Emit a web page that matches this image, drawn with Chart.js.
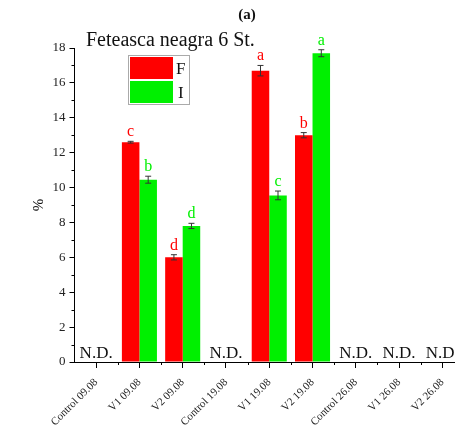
<!DOCTYPE html>
<html>
<head>
<meta charset="utf-8">
<script src="https://cdn.jsdelivr.net/npm/chart.js@4.4.0/dist/chart.umd.min.js"></script>
<style>
  html, body { margin: 0; padding: 0; background: #fff; overflow: hidden; }
  #wrap { width: 455px; height: 432px; overflow: hidden; }
</style>
</head>
<body>
<div id="wrap"><canvas id="chartCanvas" width="470" height="432"></canvas></div>
<script>
"use strict";

const categories = ['Control 09.08', 'V1 09.08', 'V2 09.08', 'Control 19.08', 'V1 19.08',
    'V2 19.08', 'Control 26.08', 'V1 26.08', 'V2 26.08'];
const valuesF = [null, 12.6, 6.0, null, 16.7, 13.0, null, null, null];
const valuesI = [null, 10.45, 7.8, null, 9.55, 17.7, null, null, null];
const errorsF = [0, 0.05, 0.15, 0, 0.3, 0.15, 0, 0, 0];
const errorsI = [0, 0.2, 0.15, 0, 0.25, 0.2, 0, 0, 0];
const lettersF = ['', 'c', 'd', '', 'a', 'b', '', '', ''];
const lettersI = ['', 'b', 'd', '', 'c', 'a', '', '', ''];
const yTicks = [0, 2, 4, 6, 8, 10, 12, 14, 16, 18];

const SERIF = '"Liberation Serif", "DejaVu Serif", serif';
const RED = '#ff0000';
const GREEN = '#00f000';

const ctx = document.getElementById('chartCanvas');

// error bars, letters, N.D., minor ticks, legend, titles
const extras = {
    id: 'extras',
    afterDatasetsDraw(chart) {
        const c = chart.ctx;
        const x = chart.scales.x;
        const y = chart.scales.y;
        const errs = [errorsF, errorsI];
        const letters = [lettersF, lettersI];
        const colors = [RED, GREEN];

        c.save();
        chart.data.datasets.forEach((ds, di) => {
            const meta = chart.getDatasetMeta(di);
            meta.data.forEach((bar, i) => {
                const v = ds.data[i];
                if (v === null) return;
                const e = errs[di][i];
                const top = y.getPixelForValue(v + e);
                const bot = y.getPixelForValue(v - e);
                c.strokeStyle = '#333';
                c.lineWidth = 1;
                c.beginPath();
                c.moveTo(bar.x, top);
                c.lineTo(bar.x, bot);
                c.moveTo(bar.x - 3, top);
                c.lineTo(bar.x + 3, top);
                c.moveTo(bar.x - 3, bot);
                c.lineTo(bar.x + 3, bot);
                c.stroke();

                c.fillStyle = colors[di];
                c.font = '16px ' + SERIF;
                c.textAlign = 'center';
                c.textBaseline = 'alphabetic';
                c.fillText(letters[di][i], bar.x, top - 5);
            });
        });

        // N.D. where nothing was detected
        c.fillStyle = '#111';
        c.font = '17px ' + SERIF;
        c.textAlign = 'center';
        categories.forEach((cat, i) => {
            if (valuesF[i] === null && valuesI[i] === null) {
                c.fillText('N.D.', x.getPixelForValue(i), y.getPixelForValue(0) - 4);
            }
        });

        // minor ticks
        c.strokeStyle = '#000';
        c.lineWidth = 1;
        c.beginPath();
        for (let v = 1; v < 18; v += 2) {
            const py = Math.round(y.getPixelForValue(v)) + 0.5;
            c.moveTo(x.left - 3, py);
            c.lineTo(x.left, py);
        }
        const step = x.getPixelForValue(1) - x.getPixelForValue(0);
        for (let i = 0; i < categories.length; i++) {
            const px = Math.round(x.getPixelForValue(i) + step / 2) + 0.5;
            c.moveTo(px, y.bottom);
            c.lineTo(px, y.bottom + 3);
        }
        c.stroke();

        // legend box
        c.strokeStyle = '#aaa';
        c.strokeRect(128.5, 55.5, 61, 49);
        c.fillStyle = RED;
        c.fillRect(130, 57, 43, 22);
        c.fillStyle = GREEN;
        c.fillRect(130, 81, 43, 22);
        c.fillStyle = '#111';
        c.font = '17px ' + SERIF;
        c.textAlign = 'left';
        c.fillText('F', 176, 74);
        c.fillText('I', 178, 98);

        // titles
        c.font = 'bold 15px ' + SERIF;
        c.textAlign = 'center';
        c.fillText('(a)', 247, 19);
        c.font = '20px ' + SERIF;
        c.textAlign = 'left';
        c.fillText('Feteasca neagra 6 St.', 86, 46);

        // axis title
        c.translate(38, 205);
        c.rotate(-Math.PI / 2);
        c.font = '15px ' + SERIF;
        c.textAlign = 'center';
        c.fillText('%', 0, 5);
        c.restore();
    }
};

const data = {
    labels: categories,
    datasets: [{
        label: 'F',
        data: valuesF,
        backgroundColor: RED,
        categoryPercentage: 0.81,
        barPercentage: 1.0
    }, {
        label: 'I',
        data: valuesI,
        backgroundColor: GREEN,
        categoryPercentage: 0.81,
        barPercentage: 1.0
    }]
};

const config = {
    type: 'bar',
    data: data,
    options: {
        responsive: false,
        animation: false,
        layout: { padding: { top: 48, right: 6, left: 0, bottom: 0 } },
        plugins: {
            legend: { display: false },
            tooltip: { enabled: false }
        },
        scales: {
            x: {
                grid: { drawOnChartArea: false, offset: false, color: '#000', tickLength: 6 },
                border: { color: '#000', width: 1 },
                ticks: {
                    minRotation: 45,
                    maxRotation: 45,
                    autoSkip: false,
                    padding: 8,
                    color: '#222',
                    font: { family: SERIF, size: 11 }
                },
                afterFit(scale) { scale.height = 70; }
            },
            y: {
                min: 0,
                max: 18,
                afterBuildTicks(scale) { scale.ticks = yTicks.map(v => ({ value: v })); },
                grid: { drawOnChartArea: false, color: '#000', tickLength: 5 },
                border: { color: '#000', width: 1 },
                ticks: {
                    color: '#222',
                    padding: 4,
                    font: { family: SERIF, size: 13 }
                },
                afterFit(scale) { scale.width = 74.5; }
            }
        }
    },
    plugins: [extras]
};

new Chart(ctx, config);
</script>
</body>
</html>
